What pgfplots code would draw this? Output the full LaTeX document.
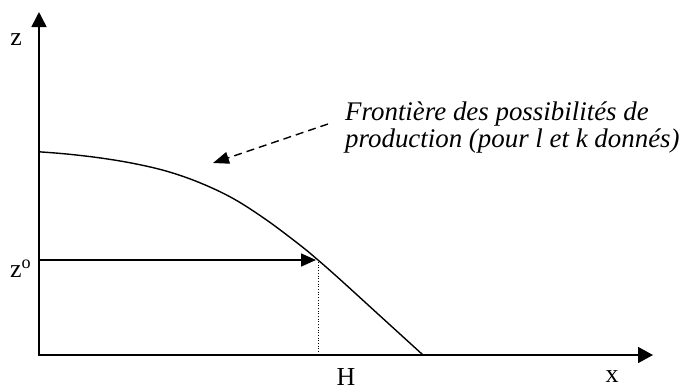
\documentclass[border=0pt]{standalone}
\usepackage{fontspec}
\setmainfont{Liberation Serif}
\usepackage{pgfplots}
\pgfplotsset{compat=1.18}
\usetikzlibrary{arrows.meta}
\begin{document}
\begin{tikzpicture}
\begin{axis}[
  name=ax,
  width=680bp, height=390bp, scale only axis,
  xmin=0, xmax=680, ymin=0, ymax=390, y dir=reverse,
  hide axis, clip=false,
]
% curve (frontier)
\addplot[line width=1.4bp, smooth, tension=0.6] coordinates {
(39,151.8) (66.7,154.0) (100,157.9) (133.3,163.4) (166.7,171.2) (200,182.8)
(233.3,198.6) (266.7,220.1) (300,245.1) (318,260) (340,279.4) (381.5,317.2) (423,355)};
% axes
\draw[line width=1.6bp, -{Triangle[length=15bp,width=15bp]}] (axis cs:39,355) -- (axis cs:39,12);
\draw[line width=1.6bp, -{Triangle[length=15bp,width=16bp]}] (axis cs:38.2,355) -- (axis cs:653,355);
% z0 arrow
\draw[line width=1.6bp, -{Triangle[length=15bp,width=13bp]}] (axis cs:39,260) -- (axis cs:316,260);
% dotted
\draw[line width=1bp, dash pattern=on 1bp off 1.7bp] (axis cs:318,262) -- (axis cs:318,355);
% dashed annotation arrow
\draw[line width=1.4bp, dash pattern=on 8bp off 5bp, -{Triangle[length=16bp,width=12bp]}] (axis cs:328,124) -- (axis cs:213,163);
% texts
\node[anchor=base west, font=\fontsize{27}{27}\selectfont\itshape, inner sep=0pt] at (axis cs:345,120) {Frontière des possibilités de};
\node[anchor=base west, font=\fontsize{27}{27}\selectfont\itshape, inner sep=0pt] at (axis cs:345,147) {production (pour l et k donnés)};
\node[anchor=base, font=\fontsize{26}{27}\selectfont, inner sep=0pt] at (axis cs:16,45) {z};
\node[anchor=base west, font=\fontsize{26}{27}\selectfont, inner sep=0pt] at (axis cs:10,277) {z\textsuperscript{o}};
\node[anchor=base, font=\fontsize{26}{27}\selectfont, inner sep=0pt] at (axis cs:346,385) {H};
\node[anchor=base, font=\fontsize{26}{27}\selectfont, inner sep=0pt] at (axis cs:612,382) {x};
\end{axis}
\pgfresetboundingbox
\useasboundingbox (ax.south west) rectangle (ax.north east);
\end{tikzpicture}
\end{document}
